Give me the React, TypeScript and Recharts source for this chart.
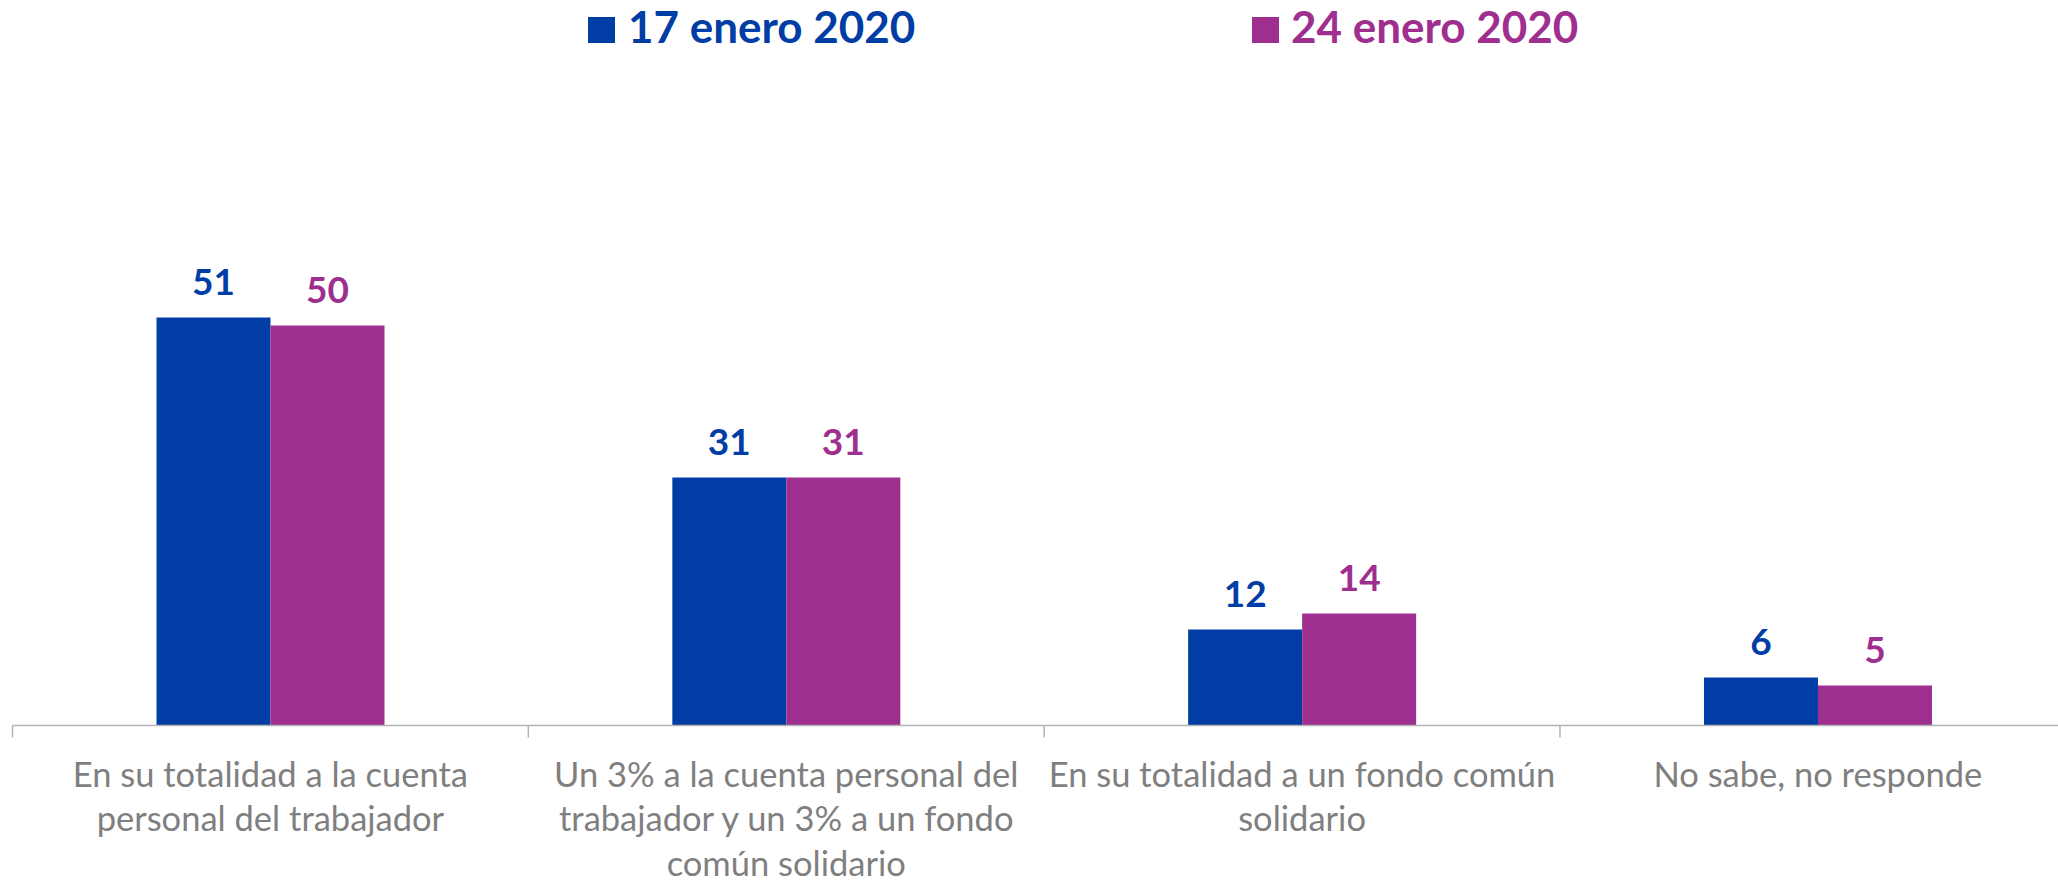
import React from 'react'
import { BarChart, Bar, XAxis, YAxis, LabelList } from 'recharts'

const categories = [
  'En su totalidad a la cuenta personal del trabajador',
  'Un 3% a la cuenta personal del trabajador y un 3% a un fondo común solidario',
  'En su totalidad a un fondo común solidario',
  'No sabe, no responde',
]

// how each category label breaks in the original
const categoryLines = [
  ['En su totalidad a la cuenta', 'personal del trabajador'],
  ['Un 3% a la cuenta personal del', 'trabajador y un 3% a un fondo', 'común solidario'],
  ['En su totalidad a un fondo común', 'solidario'],
  ['No sabe, no responde'],
]

const jan17 = [51, 31, 12, 6]
const jan24 = [50, 31, 14, 5]

const seriesNames = ['17 enero 2020', '24 enero 2020']
const seriesColors = ['#003DA5', '#9E2F8E']

const data = categories.map((name, i) => ({ name, jan17: jan17[i], jan24: jan24[i] }))

const W = 2100
const H = 880
const MARGIN = { top: 245.5, right: 24.2, bottom: 0, left: 12.5 }
const BAND = (W - MARGIN.left - MARGIN.right) / categories.length
const AXIS_GRAY = '#B4B4B4'
const FONT = 'Lato, "Open Sans", sans-serif'

function CategoryTick(props: any) {
  const { x, y, payload } = props
  const idx = categories.indexOf(payload.value)
  const lines = categoryLines[idx] ?? [payload.value]
  const edge = x - BAND / 2
  return (
    <g>
      <line x1={edge} x2={edge} y1={y - 12} y2={y} stroke={AXIS_GRAY} strokeWidth={1.5} />
      <text x={x} y={y + 49} textAnchor="middle" fill="#7F7F7F" fontSize={34.5} fontFamily={FONT}>
        {lines.map((line, i) => (
          <tspan key={i} x={x} dy={i === 0 ? 0 : 44.5}>
            {line}
          </tspan>
        ))}
      </text>
    </g>
  )
}

function LegendOverlay() {
  const items = [
    { square: 588, text: 628 },
    { square: 1252, text: 1291 },
  ]
  return (
    <svg width={2058} height={70} style={{ position: 'absolute', top: 0, left: 0 }}>
      {items.map((it, i) => (
        <g key={seriesNames[i]}>
          <rect x={it.square} y={17} width={27} height={26} fill={seriesColors[i]} />
          <text x={it.text} y={43.3} fill={seriesColors[i]} fontSize={44} fontWeight="bold" fontFamily={FONT}>
            {seriesNames[i]}
          </text>
        </g>
      ))}
    </svg>
  )
}

export default function App() {
  return (
    <div style={{ position: 'relative', width: 2058, height: 880, overflow: 'hidden', background: '#fff' }}>
      <style>{'body{margin:0;overflow:hidden}'}</style>
      <BarChart width={W} height={H} data={data} margin={MARGIN} barGap={0} barSize={114}>
        <XAxis
          dataKey="name"
          interval={0}
          height={154.5}
          tickSize={12}
          tickMargin={0}
          tickLine={false}
          axisLine={{ stroke: AXIS_GRAY, strokeWidth: 1.5 }}
          tick={<CategoryTick />}
        />
        <YAxis hide domain={[0, 60]} />
        <Bar dataKey="jan17" name={seriesNames[0]} fill={seriesColors[0]} isAnimationActive={false}>
          <LabelList
            dataKey="jan17"
            position="top"
            offset={23}
            fill={seriesColors[0]}
            fontSize={37}
            fontWeight="bold"
            fontFamily={FONT}
          />
        </Bar>
        <Bar dataKey="jan24" name={seriesNames[1]} fill={seriesColors[1]} isAnimationActive={false}>
          <LabelList
            dataKey="jan24"
            position="top"
            offset={23}
            fill={seriesColors[1]}
            fontSize={37}
            fontWeight="bold"
            fontFamily={FONT}
          />
        </Bar>
      </BarChart>
      <LegendOverlay />
    </div>
  )
}
